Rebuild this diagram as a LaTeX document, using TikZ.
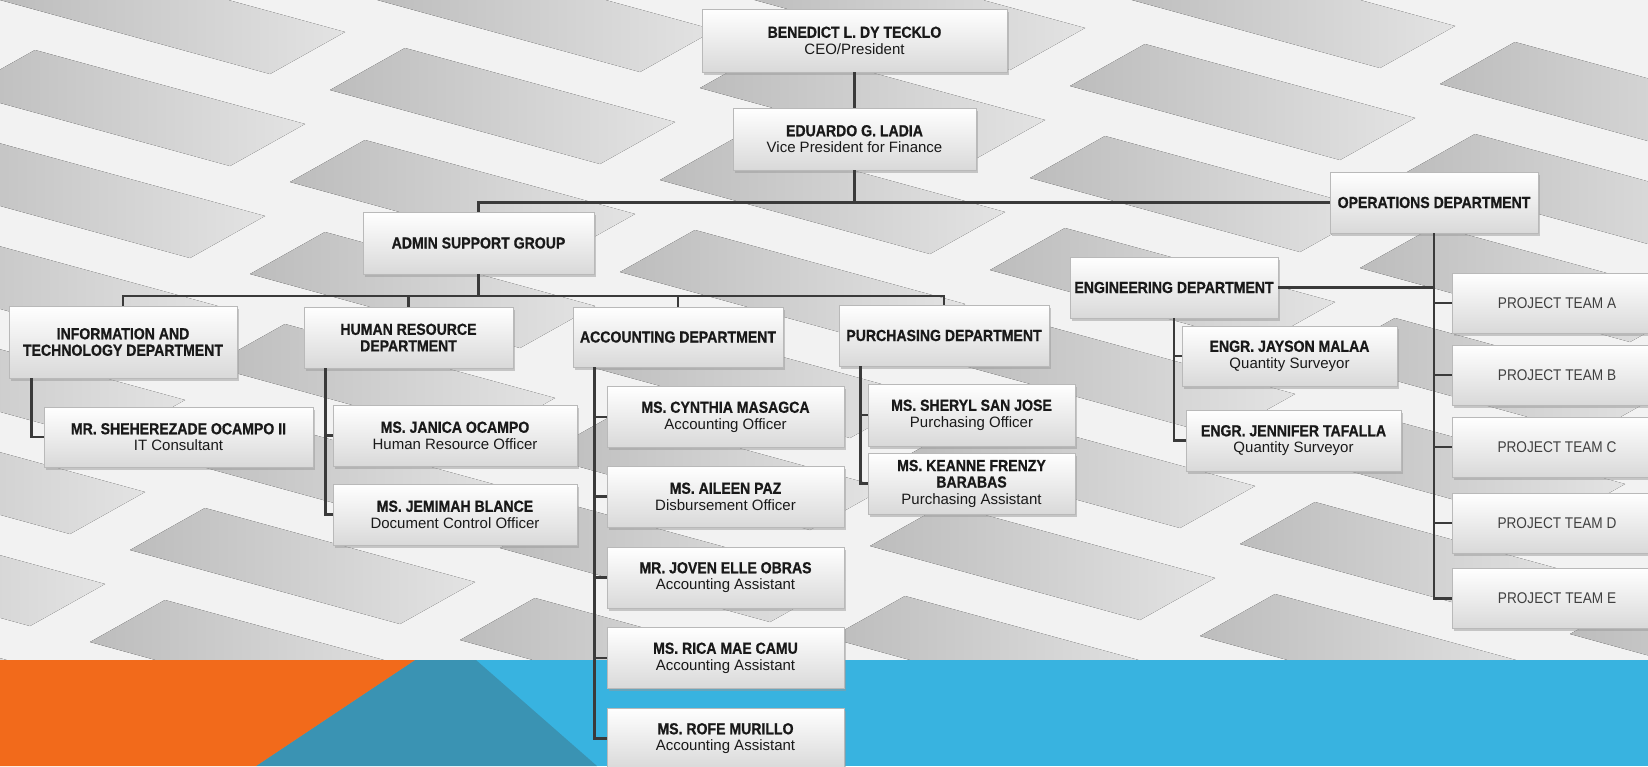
\documentclass[tikz,border=0pt]{standalone}
\usepackage{fontspec}
\setmainfont{Liberation Sans}
\newfontfamily\narrowsans{Liberation Sans}[FakeStretch=0.88, BoldFeatures={FakeBold=0.8}]
\usetikzlibrary{shadows}
\definecolor{bandorange}{HTML}{F26A1B}
\definecolor{bandteal}{HTML}{3A93B3}
\definecolor{bandblue}{HTML}{38B3E0}
\definecolor{linkgray}{HTML}{3A3A3A}
\newcommand{\nm}[1]{{\narrowsans\bfseries\fontsize{16}{16.5}\selectfont #1}}

\begin{document}
\begin{tikzpicture}[x=1pt,y=-1pt]
    \tikzstyle{box}=[draw=gray!55, line width=0.6pt, top color=white, bottom color=gray!30,
        drop shadow={shadow xshift=1.5pt, shadow yshift=-2.5pt, fill=gray!80},
        align=center, inner sep=2pt, minimum height=61pt, text=black!90,
        font=\fontsize{15}{16.5}\selectfont]
    \tikzstyle{team}=[box, text=black!75, font=\narrowsans\fontsize{15.5}{16.5}\selectfont]
    \tikzstyle{link}=[draw=linkgray, line width=2.6pt]
    \tikzstyle{cell}=[left color=gray!52, right color=gray!22]
\useasboundingbox (0,0) rectangle (1648,766);
\clip (0,0) rectangle (1648,766);
\fill[gray!10] (0,0) rectangle (1648,660);
\begin{scope}
    \clip (0,0) rectangle (1648,660);
    \foreach \i in {-2,...,6}
        \foreach \j in {-3,...,9}
            \fill[cell] ({\i*330-\j*40},{\i*90+\j*92}) -- ++(75,-42) -- ++(270,74) -- ++(-75,42) -- cycle;
\end{scope}
\fill[bandblue] (0,660) rectangle (1648,766);
\fill[bandteal] (415,660) -- (476,660) -- (597,766) -- (256,766) -- cycle;
\fill[bandorange] (0,660) -- (415,660) -- (256,766) -- (0,766) -- cycle;

\node[box, minimum width=305pt, minimum height=63pt] (ceo) at (854.5,40.5) {\nm{BENEDICT L. DY TECKLO}\\CEO/President};
\node[box, minimum width=243pt, minimum height=62pt] (vp) at (854.5,139) {\nm{EDUARDO G. LADIA}\\Vice President for Finance};
\node[box, minimum width=231pt, minimum height=62pt] (admin) at (478.5,243) {\nm{ADMIN SUPPORT GROUP}};
\node[box, minimum width=208pt] (ops) at (1434,202.5) {\nm{OPERATIONS DEPARTMENT}};

\node[box, minimum width=228pt, minimum height=72pt] (itd) at (123,342) {\nm{INFORMATION AND}\\\nm{TECHNOLOGY DEPARTMENT}};
\node[box, minimum width=209pt] (hrd) at (408.5,337.5) {\nm{HUMAN RESOURCE}\\\nm{DEPARTMENT}};
\node[box, minimum width=210pt, minimum height=60pt] (acc) at (678,337) {\nm{ACCOUNTING DEPARTMENT}};
\node[box, minimum width=210pt] (pur) at (944,335.5) {\nm{PURCHASING DEPARTMENT}};

\node[box, minimum width=269pt, minimum height=60pt] (she) at (178.5,437) {\nm{MR. SHEHEREZADE OCAMPO II}\\IT Consultant};
\node[box, minimum width=244pt] (jan) at (455,435.5) {\nm{MS. JANICA OCAMPO}\\Human Resource Officer};
\node[box, minimum width=244pt] (jem) at (455,514.5) {\nm{MS. JEMIMAH BLANCE}\\Document Control Officer};

\foreach \n/\y/\who/\role in {cyn/417/{MS. CYNTHIA MASAGCA}/{Accounting Officer},
        ail/496.5/{MS. AILEEN PAZ}/{Disbursement Officer},
        jov/577.5/{MR. JOVEN ELLE OBRAS}/{Accounting Assistant},
        ric/658/{MS. RICA MAE CAMU}/{Accounting Assistant},
        rof/738.5/{MS. ROFE MURILLO}/{Accounting Assistant}}
    \node[box, minimum width=237pt] (\n) at (725.5,\y) {\nm{\who}\\\role};

\node[box, minimum width=207pt, minimum height=62pt] (sjo) at (971.5,415) {\nm{MS. SHERYL SAN JOSE}\\Purchasing Officer};
\node[box, minimum width=207pt] (kea) at (971.5,483.5) {\nm{MS. KEANNE FRENZY}\\\nm{BARABAS}\\Purchasing Assistant};

\node[box, minimum width=208pt] (eng) at (1174,287.5) {\nm{ENGINEERING DEPARTMENT}};
\node[box, minimum width=215pt, minimum height=60pt] (jay) at (1289.5,356) {\nm{ENGR. JAYSON MALAA}\\Quantity Surveyor};
\node[box, minimum width=215pt] (jen) at (1293.5,440.5) {\nm{ENGR. JENNIFER TAFALLA}\\Quantity Surveyor};

\foreach \t/\y in {A/303,B/375,C/447,D/523,E/598.5}
    \node[team, minimum width=210pt, minimum height=60pt] (pt\t) at (1557,\y) {PROJECT TEAM \t};

\draw[link] (ceo) -- (vp);
\draw[link] (vp) -- (vp |- ops.west);
\draw[link] (admin.north) |- (ops.west);
\coordinate (abus) at (478.5,296);
\draw[link] (admin) -- (abus);
\foreach \d in {itd,hrd,acc,pur}
    \draw[link] (abus) -| (\d.north);
\draw[link] ([xshift=23pt]itd.south west) |- (she.west);
\foreach \p in {jan,jem}
    \draw[link] ([xshift=22pt]hrd.south west) |- (\p.west);
\foreach \p in {cyn,ail,jov,ric,rof}
    \draw[link] ([xshift=22pt]acc.south west) |- (\p.west);
\foreach \p in {sjo,kea}
    \draw[link] ([xshift=22pt]pur.south west) |- (\p.west);
\foreach \p in {jay,jen}
    \draw[link] (eng.south) |- (\p.west);
\draw[link] (eng.east) -- (eng.east -| ops.south);
\foreach \t in {A,B,C,D,E}
    \draw[link] (ops.south) |- (pt\t.west);
\end{tikzpicture}
\end{document}
